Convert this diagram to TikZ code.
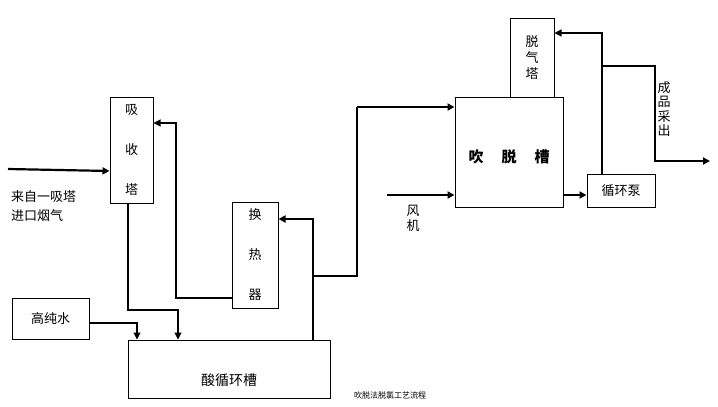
\documentclass[tikz,border=0pt]{standalone}
\usepackage{fontspec}
\newfontfamily\cjk{Noto Sans CJK SC}
\usetikzlibrary{arrows.meta,calc}
\begin{document}
\begin{tikzpicture}[x=1pt,y=-1pt,
  box/.style={draw,line width=1pt,inner sep=0pt,font=\cjk\fontsize{13}{14}\selectfont,align=center},
  txt/.style={inner sep=0pt,font=\cjk\fontsize{13}{14}\selectfont,align=center},
  thin/.style={line width=1.1pt,-{Triangle[length=7pt,width=7pt]}},
  thick/.style={line width=2.2pt,-{Triangle[length=7pt,width=7pt]}},
  plain/.style={line width=1.1pt}]
\useasboundingbox (0,0) rectangle (718,407);
% boxes
\node[box,minimum width=43pt,minimum height=106pt,font=\cjk\fontsize{13}{40}\selectfont] (abs) at (131.5,150) {吸\\收\\塔};
\node[box,minimum width=77pt,minimum height=41pt] (hpw) at (50.5,318.5) {高纯水};
\node[box,minimum width=202pt,minimum height=58pt] (tank) at (229,369) {};
\node[txt,font=\cjk\fontsize{14}{14}\selectfont] (tanklbl) at (229,380) {酸循环槽};
\node[box,minimum width=46pt,minimum height=106pt,font=\cjk\fontsize{13}{40}\selectfont] (hx) at (255,255) {换\\热\\器};
\node[box,minimum width=108pt,minimum height=110pt,font=\cjk\bfseries\fontsize{15}{16}\selectfont] (strip) at (509,152) {};
\node[txt,font=\cjk\bfseries\fontsize{15}{16}\selectfont] (striplbl) at (509,157) {吹\hspace{18pt}脱\hspace{18pt}槽};
\node[box,minimum width=44pt,minimum height=79pt,font=\cjk\fontsize{13}{16}\selectfont] (deg) at (532,57.5) {脱\\气\\塔};
\node[box,minimum width=68pt,minimum height=33pt] (pump) at (621,190.5) {循环泵};
% labels
\node[txt,anchor=north west,align=left,font=\cjk\fontsize{13}{19}\selectfont] (srclbl) at (11,190) {来自一吸塔\\进口烟气};
\node[txt,font=\cjk\fontsize{13}{15}\selectfont] (fanlbl) at (413,218) {风\\机};
\node[txt,font=\cjk\fontsize{13}{14.5}\selectfont] (outlbl) at (664,109) {成\\品\\采\\出};
\node[txt,font=\cjk\fontsize{8}{9}\selectfont] (cap) at (390,395) {吹脱法脱氯工艺流程};
% coordinates
\coordinate (src) at (8,169);
\coordinate (fan) at (387,195);
\coordinate (j1) at (313,276);
\coordinate (j2) at (602,66);
\coordinate (out) at (710,161);
% connectors
\draw[thick] (src) -- ([yshift=-21pt]abs.west);
\draw[thin] ([xshift=-3.5pt]abs.south) |- (178,310) -- ([xshift=-51pt]tank.north);
\draw[thin] ([yshift=-4.5pt]hpw.east) -| ([xshift=-92pt]tank.north);
\draw[thin] ([yshift=-43pt]hx.west) -| (176,123) -- ([yshift=27pt]abs.east);
\draw[thick,line width=1.8pt] ([xshift=84pt]tank.north) |- ([yshift=36pt]hx.east);
\draw[plain] (j1) -| (357,107);
\draw[thick] (357,107) -- ([yshift=45pt]strip.west);
\draw[thick] (fan) -- ([yshift=-43pt]strip.west);
\draw[thick] ([yshift=-43pt]strip.east) -- ([yshift=-4.5pt]pump.west);
\draw[thin,line width=1.4pt] ([xshift=-19pt]pump.north) |- ([yshift=24.5pt]deg.east);
\draw[thick,line width=1.8pt] (j2) -| (655,161) -- (out);
\end{tikzpicture}
\end{document}
